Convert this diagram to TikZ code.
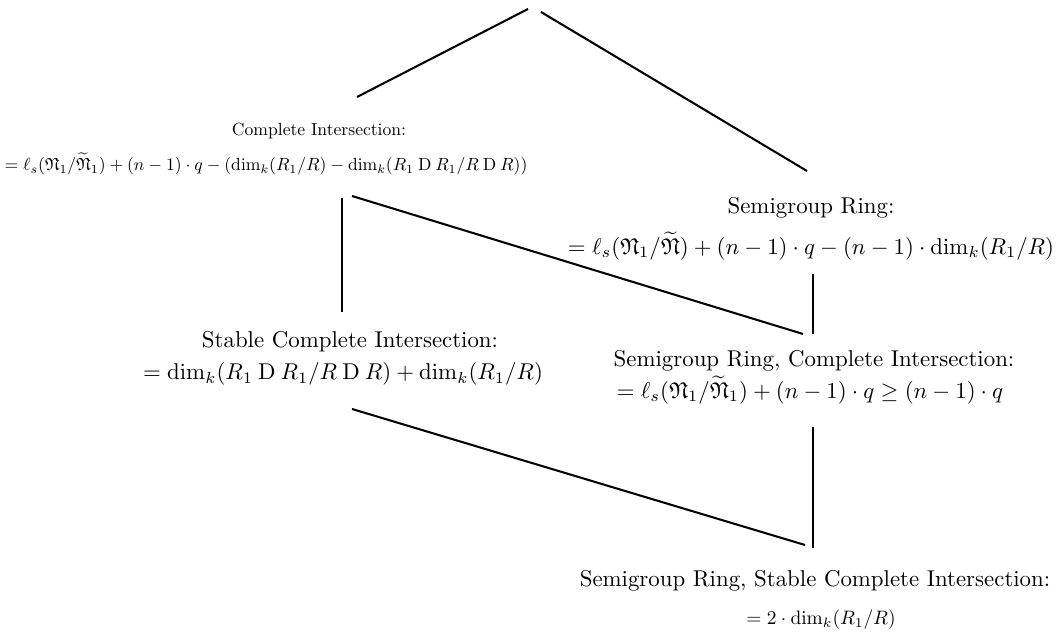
\documentclass[tikz,border=0pt]{standalone}
\usepackage{amsmath}
\usepackage{amsfonts}
\usepackage{amssymb}

\newcommand{\Nf}{\mathfrak{N}}
\newcommand{\Dop}{\mathbin{\mathrm{D}}}

\begin{document}
\begin{tikzpicture}[x=0.4375pt,y=-0.4375pt,
    txt/.style={inner sep=0pt},
    edge/.style={line width=0.9pt}]
    \useasboundingbox (0,0) rectangle (1057,640);

    % Complete intersection
    \node[txt] (ci-head) at (319,131) {\scalebox{0.77}{Complete Intersection:}};
    \node[txt] (ci-eq) at (266,164) {\scalebox{0.77}{$=\ell_s(\Nf_1/\widetilde{\Nf}_1)+(n-1)\cdot q-(\dim_k(R_1/R)-\dim_k(R_1\Dop R_1/R\Dop R))$}};

    % Semigroup ring
    \node[txt] (sr-head) at (811,208) {Semigroup Ring:};
    \node[txt] (sr-eq) at (811,246) {$=\ell_s(\Nf_1/\widetilde{\Nf})+(n-1)\cdot q-(n-1)\cdot\dim_k(R_1/R)$};

    % Stable complete intersection
    \node[txt] (sci-head) at (350,342) {Stable Complete Intersection:};
    \node[txt] (sci-eq) at (343,374) {$=\dim_k(R_1\Dop R_1/R\Dop R)+\dim_k(R_1/R)$};

    % Semigroup ring, complete intersection
    \node[txt] (srci-head) at (814,361) {Semigroup Ring, Complete Intersection:};
    \node[txt] (srci-eq) at (810,390) {$=\ell_s(\Nf_1/\widetilde{\Nf}_1)+(n-1)\cdot q\geq(n-1)\cdot q$};

    % Semigroup ring, stable complete intersection
    \node[txt] (srsci-head) at (815,581) {Semigroup Ring, Stable Complete Intersection:};
    \node[txt] (srsci-eq) at (821,620) {\scalebox{0.85}{$=2\cdot\dim_k(R_1/R)$}};

    % line ends
    \coordinate (top-l) at (528,9);
    \coordinate (top-r) at (541,12);
    \coordinate (ci-in) at (357,97);
    \coordinate (sr-in) at (807,171);
    \coordinate (ci-down) at (342,198);
    \coordinate (ci-out) at (352,196);
    \coordinate (sci-in) at (342,312);
    \coordinate (sci-out) at (352,409);
    \coordinate (sr-out) at (813,274);
    \coordinate (srci-in) at (813,334);
    \coordinate (srci-diag) at (803,334);
    \coordinate (srci-out) at (813,427);
    \coordinate (srsci-in) at (813,548);
    \coordinate (srsci-diag) at (805,545);

    \draw[edge] (top-l) -- (ci-in);
    \draw[edge] (top-r) -- (sr-in);
    \draw[edge] (ci-down) -- (sci-in);
    \draw[edge] (ci-out) -- (srci-diag);
    \draw[edge] (sr-out) -- (srci-in);
    \draw[edge] (sci-out) -- (srsci-diag);
    \draw[edge] (srci-out) -- (srsci-in);
\end{tikzpicture}
\end{document}
